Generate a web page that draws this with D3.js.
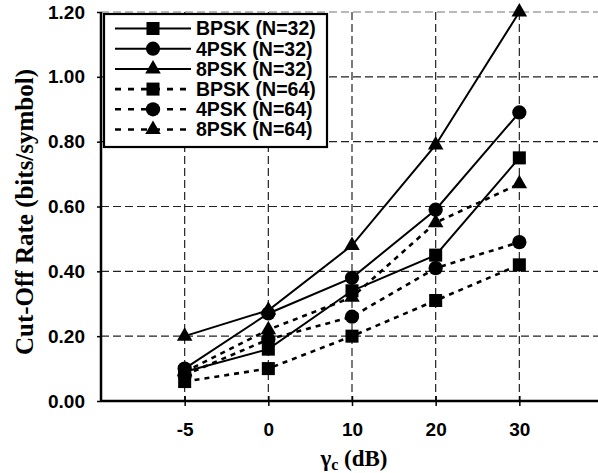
<!DOCTYPE html>
<html>
<head>
<meta charset="utf-8">
<script src="https://d3js.org/d3.v7.min.js"></script>
<style>
  body { margin: 0; background: white; }
  text { font-family: "Liberation Sans", Arial, sans-serif; font-weight: bold; }
  .ttl { font-family: "Liberation Serif", "Times New Roman", serif; font-weight: bold; }
</style>
</head>
<body>
<div id="chart"></div>
<script>
// categories along the x axis (gamma_c in dB)
var gammaLabels = ["-5", "0", "10", "20", "30"];

// cut-off rate values (bits/symbol)
var bpsk32 = [0.09, 0.16, 0.34, 0.45, 0.75];
var psk4_32 = [0.10, 0.27, 0.38, 0.59, 0.89];
var psk8_32 = [0.20, 0.28, 0.48, 0.79, 1.20];
var bpsk64 = [0.06, 0.10, 0.20, 0.31, 0.42];
var psk4_64 = [0.08, 0.19, 0.26, 0.41, 0.49];
var psk8_64 = [0.09, 0.22, 0.32, 0.55, 0.67];

var seriesNames = ["BPSK (N=32)", "4PSK (N=32)", "8PSK (N=32)",
                   "BPSK (N=64)", "4PSK (N=64)", "8PSK (N=64)"];
var yTicks = [0, 0.2, 0.4, 0.6, 0.8, 1.0, 1.2];

var series = [
  {name: seriesNames[0], values: bpsk32, shape: "square", dashed: false},
  {name: seriesNames[1], values: psk4_32, shape: "circle", dashed: false},
  {name: seriesNames[2], values: psk8_32, shape: "triangle", dashed: false},
  {name: seriesNames[3], values: bpsk64, shape: "square", dashed: true},
  {name: seriesNames[4], values: psk4_64, shape: "circle", dashed: true},
  {name: seriesNames[5], values: psk8_64, shape: "triangle", dashed: true}
];

var width = 598, height = 473;
var plotLeft = 101, plotRight = 598, plotTop = 12, plotBottom = 401;

var svg = d3.select("#chart").append("svg")
    .attr("width", width)
    .attr("height", height);

// category index 1..5 sits on a 0..6 band, last band runs off the edge
var x = d3.scaleLinear().domain([0, 6]).range([plotLeft, 603]);
var y = d3.scaleLinear().domain([0, 1.2]).range([plotBottom, plotTop]);

function symbolPath(shape) {
  if (shape == "square") return d3.symbol().type(d3.symbolSquare).size(170)();
  if (shape == "circle") return d3.symbol().type(d3.symbolCircle).size(160)();
  return d3.symbol().type(d3.symbolTriangle).size(105)();
}

// grid
svg.append("g").selectAll("line")
  .data(yTicks.filter(function(d) { return d > 0; }))
  .enter().append("line")
    .attr("x1", plotLeft).attr("x2", plotRight)
    .attr("y1", function(d) { return y(d); })
    .attr("y2", function(d) { return y(d); })
    .attr("stroke", function(d) { return d == 1.2 ? "#777" : "#222"; })
    .attr("stroke-width", 1.2)
    .attr("stroke-dasharray", "8,4");

svg.append("g").selectAll("line")
  .data(d3.range(1, 6))
  .enter().append("line")
    .attr("x1", function(d) { return x(d); })
    .attr("x2", function(d) { return x(d); })
    .attr("y1", plotTop).attr("y2", plotBottom)
    .attr("stroke", "#222")
    .attr("stroke-width", 1.2)
    .attr("stroke-dasharray", "8,4");

// series lines
var line = d3.line()
  .x(function(d, i) { return x(i + 1); })
  .y(function(d) { return y(d); });

svg.append("g").selectAll("path")
  .data(series)
  .enter().append("path")
    .attr("d", function(d) { return line(d.values); })
    .attr("fill", "none")
    .attr("stroke", "black")
    .attr("stroke-width", function(d) { return d.dashed ? 2.6 : 2; })
    .attr("stroke-dasharray", function(d) { return d.dashed ? "5,5" : null; });

// markers
series.forEach(function(s) {
  svg.append("g").selectAll("path")
    .data(s.values)
    .enter().append("path")
      .attr("d", symbolPath(s.shape))
      .attr("transform", function(d, i) {
        return "translate(" + x(i + 1) + "," + y(d) + ")";
      })
      .attr("fill", "black");
});

// y axis
var yAxis = svg.append("g")
    .attr("transform", "translate(" + plotLeft + ",0)")
    .call(d3.axisLeft(y).tickValues(yTicks).tickSize(4).tickPadding(12)
      .tickFormat(d3.format(".2f")));
yAxis.select(".domain").remove();
yAxis.selectAll("text").style("font-size", "19px").attr("fill", "black");
yAxis.selectAll("line").attr("stroke-width", 1.5);

// x axis
var xAxis = svg.append("g")
    .attr("transform", "translate(0," + plotBottom + ")")
    .call(d3.axisBottom(x).tickValues(d3.range(1, 6)).tickSize(5).tickPadding(17)
      .tickFormat(function(d) { return gammaLabels[d - 1]; }));
xAxis.select(".domain").remove();
xAxis.selectAll("text").style("font-size", "19px").attr("fill", "black");
xAxis.selectAll("line").attr("y1", -5).attr("stroke-width", 1.5);

svg.append("line")
  .attr("x1", plotLeft).attr("x2", plotLeft).attr("y1", plotTop).attr("y2", plotBottom + 1)
  .attr("stroke", "black").attr("stroke-width", 2.5);
svg.append("line")
  .attr("x1", plotLeft).attr("x2", plotRight).attr("y1", plotBottom).attr("y2", plotBottom)
  .attr("stroke", "black").attr("stroke-width", 2.5);

// axis titles
svg.append("text")
  .attr("class", "ttl")
  .attr("transform", "translate(33,212) rotate(-90)")
  .attr("text-anchor", "middle")
  .style("font-size", "25px")
  .text("Cut-Off Rate (bits/symbol)");

var xt = svg.append("text")
  .attr("class", "ttl")
  .attr("x", 354).attr("y", 466)
  .attr("text-anchor", "middle")
  .style("font-size", "23px");
xt.append("tspan").text("\u03b3");
xt.append("tspan").attr("dy", 4).style("font-size", "16px").text("c");
xt.append("tspan").attr("dy", -4).text(" (dB)");

// legend
var legend = svg.append("g");
legend.append("rect")
  .attr("x", 104).attr("y", 14).attr("width", 223).attr("height", 133)
  .attr("fill", "white").attr("stroke", "black").attr("stroke-width", 2.2);

var rows = legend.selectAll("g.row")
  .data(series)
  .enter().append("g")
    .attr("class", "row")
    .attr("transform", function(d, i) { return "translate(0," + (28.5 + i * 20.2) + ")"; });

rows.append("line")
  .attr("x1", 115).attr("x2", 191).attr("y1", 0).attr("y2", 0)
  .attr("stroke", "black")
  .attr("stroke-width", function(d) { return d.dashed ? 2.6 : 2; })
  .attr("stroke-dasharray", function(d) { return d.dashed ? "6,7" : null; });

rows.append("path")
  .attr("d", function(d) { return symbolPath(d.shape); })
  .attr("transform", "translate(153,0)")
  .attr("fill", "black");

rows.append("text")
  .attr("x", 196).attr("y", 0).attr("dy", "0.35em")
  .style("font-size", "19.5px")
  .text(function(d) { return d.name; });
</script>
</body>
</html>
